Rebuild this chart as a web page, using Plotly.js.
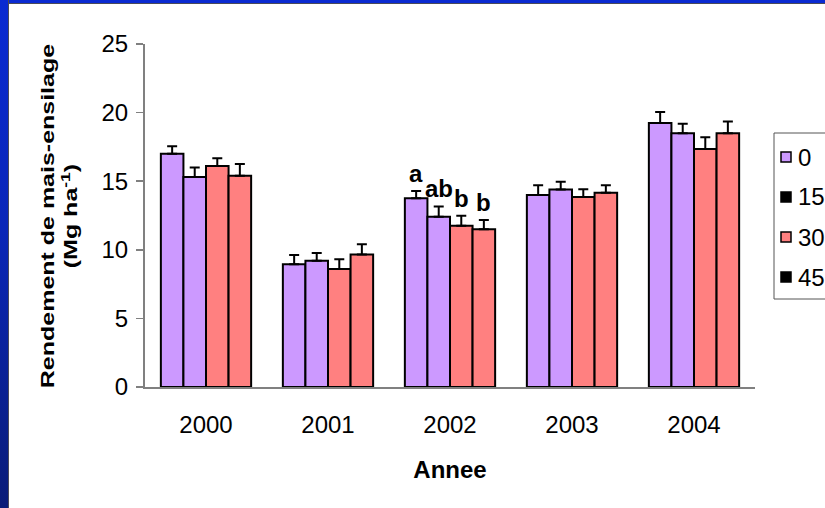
<!DOCTYPE html>
<html>
<head>
<meta charset="utf-8">
<script src="https://cdn.plot.ly/plotly-3.0.1.min.js"></script>
<style>
  html, body { margin: 0; padding: 0; background: #fff; }
  #wrap { position: relative; width: 825px; height: 508px; overflow: hidden; }
  #chart { position: absolute; left: 0; top: 0; width: 825px; height: 508px; }
  .frameL { position: absolute; left: 0; top: 0; width: 8px; height: 508px;
            background: linear-gradient(to bottom, #0a2ad2 0%, #0a26b8 45%, #0a1c78 100%);
            border-right: 1.5px solid #4a4a5a; pointer-events: none; }
  .frameT { position: absolute; left: 0; top: 0; width: 825px; height: 3px;
            background: #0a2ad2; border-bottom: 1px solid #4a4a5a; pointer-events: none; }
</style>
</head>
<body>
<div id="wrap">
  <div id="chart"></div>
  <div class="frameT"></div>
  <div class="frameL"></div>
</div>
<script>
// ---- data ----
const years = ['2000', '2001', '2002', '2003', '2004'];
const seriesNames = ['0', '15', '30', '45'];
const y0  = [17.0, 8.95, 13.75, 14.0, 19.25];
const y15 = [15.3, 9.2, 12.4, 14.4, 18.5];
const y30 = [16.1, 8.6, 11.75, 13.85, 17.35];
const y45 = [15.4, 9.65, 11.5, 14.15, 18.5];
const e0  = [0.55, 0.68, 0.54, 0.70, 0.80];
const e15 = [0.70, 0.56, 0.76, 0.56, 0.68];
const e30 = [0.58, 0.71, 0.73, 0.56, 0.85];
const e45 = [0.85, 0.75, 0.68, 0.56, 0.85];
const letters0  = ['', '', 'a', '', ''];
const letters15 = ['', '', 'ab', '', ''];
const letters30 = ['', '', 'b', '', ''];
const letters45 = ['', '', 'b', '', ''];
const barColors = ['#CC99FF', '#CC99FF', '#FF8080', '#FF8080'];
const legendColors = ['#CC99FF', '#000000', '#FF8080', '#000000'];

const values = [y0, y15, y30, y45];
const errors = [e0, e15, e30, e45];
const letters = [letters0, letters15, letters30, letters45];

const bargap = 0.26;
const traces = values.map((v, i) => ({
  type: 'bar',
  name: seriesNames[i],
  x: years,
  y: v,
  marker: { color: barColors[i], line: { color: '#000', width: 2 } },
  error_y: { type: 'data', array: errors[i], symmetric: false,
             arrayminus: errors[i].map(() => 0),
             color: '#000', thickness: 2, width: 5 },
  showlegend: false,
  hoverinfo: 'x+y+name'
}));

// ---- layout geometry (pixels) ----
const W = 825, H = 508;
const L = 145, R = 755, T = 44, B = 387;
const px2x = p => (p - L) / (R - L);
const px2y = p => (B - p) / (B - T);

const annotations = [];
// significance letters above bars
const nS = values.length;
const bw = (1 - bargap) / nS;
letters.forEach((arr, i) => {
  arr.forEach((t, j) => {
    if (!t) return;
    annotations.push({
      xref: 'x', yref: 'y',
      x: j - (1 - bargap) / 2 + (i + 0.5) * bw,
      y: values[i][j] + errors[i][j],
      text: '<b>' + t + '</b>',
      showarrow: false, xanchor: 'center', yanchor: 'bottom', yshift: 2,
      font: { family: 'Liberation Sans, Arial, sans-serif', size: 24, color: '#000' }
    });
  });
});

// manual legend (clipped by the page edge like the reference)
const legTop = 133, legBot = 299, legLeft = 774;
const shapes = [{
  type: 'rect', xref: 'paper', yref: 'paper',
  x0: px2x(legLeft), x1: px2x(840), y0: px2y(legBot), y1: px2y(legTop),
  line: { color: '#555', width: 1 }, fillcolor: 'rgba(0,0,0,0)'
}];
const itemY = [157, 197, 237, 277];
seriesNames.forEach((n, i) => {
  const cy = itemY[i];
  shapes.push({
    type: 'rect', xref: 'paper', yref: 'paper',
    x0: px2x(781), x1: px2x(791), y0: px2y(cy + 5), y1: px2y(cy - 5),
    line: { color: '#000', width: 1.5 }, fillcolor: legendColors[i]
  });
  annotations.push({
    xref: 'paper', yref: 'paper', x: px2x(796), y: px2y(cy),
    text: n, showarrow: false, xanchor: 'left', yanchor: 'middle',
    font: { family: 'Liberation Sans, Arial, sans-serif', size: 24, color: '#000' }
  });
});

const layout = {
  width: W, height: H,
  margin: { l: L, r: W - R, t: T, b: H - B, autoexpand: false },
  paper_bgcolor: '#fff', plot_bgcolor: '#fff',
  barmode: 'group', bargap: bargap, bargroupgap: 0,
  showlegend: false,
  font: { family: 'Liberation Sans, Arial, sans-serif', color: '#000' },
  xaxis: {
    type: 'category', range: [-0.5, 4.5],
    showline: true, linecolor: '#808080', linewidth: 2,
    ticks: '', showgrid: false, zeroline: false,
    ticklabelstandoff: 15,
    tickfont: { size: 24, color: '#000' },
    title: { text: 'Annee', font: { size: 24, weight: 'bold', color: '#000' }, standoff: 24 }
  },
  yaxis: {
    range: [0, 25], dtick: 5, tick0: 0,
    showline: true, linecolor: '#808080', linewidth: 2,
    ticks: 'outside', ticklen: 7, tickwidth: 1.5, tickcolor: '#808080',
    ticklabelstandoff: 3,
    showgrid: false, zeroline: false,
    tickfont: { size: 24, color: '#000' },
    title: { text: 'Rendement de mais-ensilage<br>(Mg ha<sup>-1</sup>)',
             font: { size: 25, weight: 'bold', color: '#000' }, standoff: 10 }
  },
  annotations: annotations,
  shapes: shapes
};

Plotly.newPlot('chart', traces, layout, { displayModeBar: false, staticPlot: true }).then(() => {
  // The reference's vertical title is stretched along its length: compress its thickness.
  const t = document.querySelector('#chart .ytitle');
  if (!t) return;
  const svg = t.ownerSVGElement;
  const sr = svg.getBoundingClientRect();
  const r = t.getBoundingClientRect();
  const cx = r.left - sr.left + r.width / 2;
  const cy = r.top - sr.top + r.height / 2;
  const tx = 59, ty = 216;
  const prev = t.getAttribute('transform') || '';
  t.setAttribute('transform',
    `translate(${tx},${ty}) scale(0.72,1) translate(${-cx},${-cy}) ${prev}`);
});
</script>
</body>
</html>
